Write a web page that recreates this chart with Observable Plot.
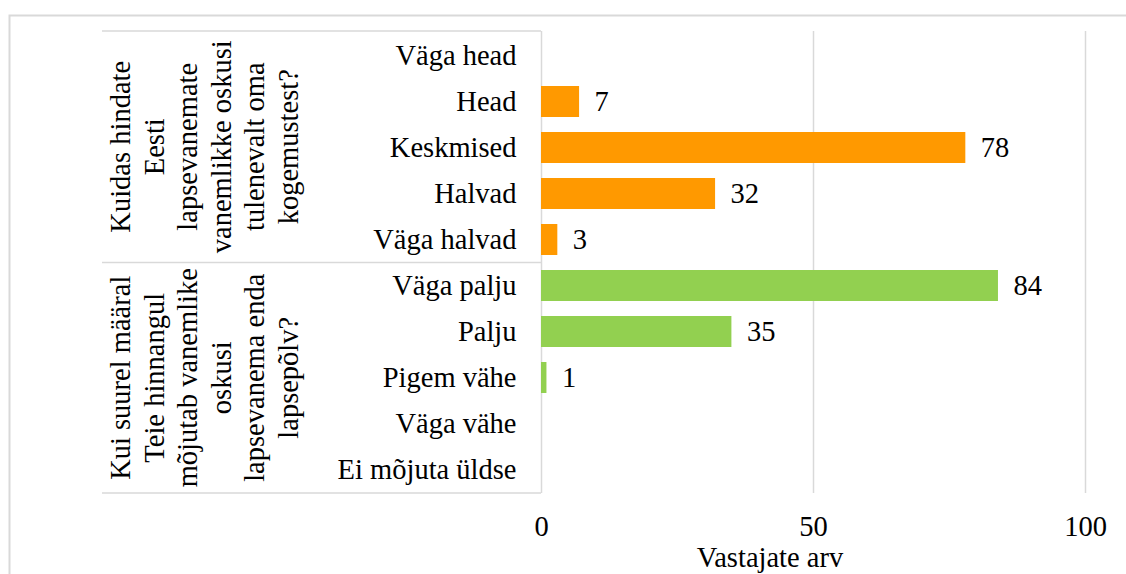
<!DOCTYPE html>
<html>
<head>
<meta charset="utf-8">
<script src="https://cdn.jsdelivr.net/npm/d3@7"></script>
<script src="https://cdn.jsdelivr.net/npm/@observablehq/plot@0.6"></script>
<style>
  html, body { margin: 0; padding: 0; background: #fff; overflow: hidden; }
  #chart { position: relative; width: 1126px; height: 574px; }
</style>
</head>
<body>
<div id="chart"></div>
<script>
// ---- data ----
const categories = ["Väga head", "Head", "Keskmised", "Halvad", "Väga halvad",
                    "Väga palju", "Palju", "Pigem vähe", "Väga vähe", "Ei mõjuta üldse"];
const values = [0, 7, 78, 32, 3, 84, 35, 1, 0, 0];
const categoryGroup = [0, 0, 0, 0, 0, 1, 1, 1, 1, 1];
const groupLabels = [
  ["Kuidas hindate", "Eesti", "lapsevanemate", "vanemlikke oskusi", "tulenevalt oma", "kogemustest?"],
  ["Kui suurel määral", "Teie hinnangul", "mõjutab vanemlike", "oskusi", "lapsevanema enda", "lapsepõlv?"]
];
const groupNames = ["g1", "g2"];
const groupColors = ["#ff9900", "#92d050"];
const xTicks = [0, 50, 100];
const xLabel = "Vastajate arv";

(function () {
  const rows = categories.map((c, i) => ({category: c, value: values[i], group: groupNames[categoryGroup[i]]}));
  const shown = rows.filter(d => d.value > 0);

  const FONT = "'Liberation Serif', 'Times New Roman', 'DejaVu Serif', serif";
  const FS = 28.5;
  const GRID = "#d9d9d9";

  const plot = Plot.plot({
    width: 1126,
    height: 574,
    marginLeft: 541,
    marginRight: 41,
    marginTop: 31,
    marginBottom: 81,
    style: {fontFamily: FONT, fontSize: FS + "px", color: "#000", background: "transparent", overflow: "visible"},
    x: {domain: [0, 100], ticks: xTicks, label: null},
    y: {domain: categories, paddingInner: 0.335, paddingOuter: 0.1675, label: null},
    color: {domain: groupNames, range: groupColors},
    marks: [
      Plot.gridX(xTicks, {stroke: GRID, strokeOpacity: 1, strokeWidth: 1.5}),
      Plot.barX(shown, {x: "value", y: "category", fill: "group"}),
      Plot.text(shown, {x: "value", y: "category", text: d => String(d.value), textAnchor: "start", dx: 15, fill: "#000"}),
      Plot.axisY({tickSize: 0, tickPadding: 25, label: null, fill: "#000"}),
      Plot.axisX(xTicks, {tickSize: 0, tickPadding: 22, label: null, fill: "#000", tickFormat: d => String(d)})
    ]
  });

  document.getElementById("chart").appendChild(plot);

  // ---- table-like frame lines and group labels, positioned from the scales ----
  const svg = d3.select(plot);
  const ys = plot.scale("y");
  const xs = plot.scale("x");
  const yTop = Math.min(...ys.range);
  const yBottom = Math.max(...ys.range);
  const yDivider = (ys.apply(categories[4]) + ys.bandwidth + ys.apply(categories[5])) / 2;
  const x0 = xs.apply(0);
  const tableLeft = 102;

  // outer chart-area border
  svg.insert("rect", ":first-child")
    .attr("x", 9.5).attr("y", 15.5).attr("width", 1300).attr("height", 800)
    .attr("fill", "none").attr("stroke", GRID).attr("stroke-width", 2);

  const lines = svg.append("g").attr("stroke", GRID).attr("stroke-width", 1.5);
  [yTop, yDivider, yBottom].forEach(y => {
    lines.append("line").attr("x1", tableLeft).attr("x2", x0).attr("y1", y).attr("y2", y);
  });

  const bounds = [[yTop, yDivider], [yDivider, yBottom]];
  groupLabels.forEach((lns, gi) => {
    const yc = (bounds[gi][0] + bounds[gi][1]) / 2;
    const t = svg.append("text")
      .attr("transform", `translate(130,${yc}) rotate(-90)`)
      .attr("text-anchor", "middle")
      .style("font-family", FONT)
      .style("font-size", FS + "px")
      .attr("fill", "#000");
    lns.forEach((s, i) => {
      t.append("tspan").attr("x", 0).attr("dy", i === 0 ? 0 : 33.5).text(s);
    });
  });

  // x-axis title
  svg.append("text")
    .attr("x", 770).attr("y", 567)
    .attr("text-anchor", "middle")
    .style("font-family", FONT)
    .style("font-size", FS + "px")
    .attr("fill", "#000")
    .text(xLabel);
})();
</script>
</body>
</html>
